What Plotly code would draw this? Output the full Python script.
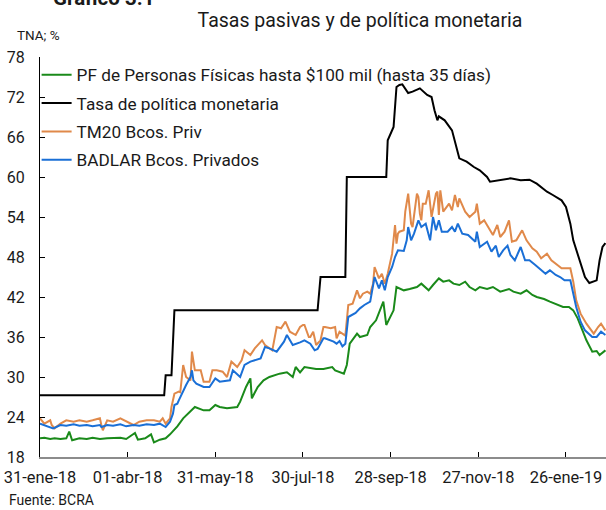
import plotly.graph_objects as go
import pandas as pd

BASE = pd.Timestamp("2018-01-31")

tick_dias = [0, 60, 120, 180, 240, 300, 360]
tick_etiquetas = ["31-ene-18", "01-abr-18", "31-may-18", "30-jul-18",
                  "28-sep-18", "27-nov-18", "26-ene-19"]

# Tasa de política monetaria (días desde 31-ene-18, valor)
tpm_dias = [0, 85, 86, 90, 92, 190, 192, 209, 210, 237, 238, 242, 244, 246, 248, 252, 255,
            260, 265, 268, 270, 272, 273, 277, 282, 285, 287, 292, 297, 301, 306, 308,
            315, 322, 329, 335, 340, 347, 351, 357, 360, 363, 365, 370, 373, 376, 381,
            383, 385, 387]
tpm_val = [27.25, 27.25, 30.25, 30.25, 40.0, 40.0, 45.0, 45.0, 60.0, 60.0, 65.5, 67.5, 73.5,
           73.8, 73.9, 72.6, 72.8, 73.3, 72.3, 72.0, 70.0, 68.5, 69.1, 68.5, 67.0, 64.5,
           62.8, 62.3, 61.5, 61.0, 60.0, 59.3, 59.5, 59.8, 59.5, 59.6, 59.0, 57.8, 57.3,
           56.5, 55.5, 53.0, 50.5, 47.0, 45.0, 44.1, 44.5, 47.5, 49.5, 50.1]

# TM20 Bcos. Priv
tm20_dias = [0, 3, 7, 8, 10, 14, 18, 23, 27, 32, 36, 41, 42, 43, 46, 50, 55, 59, 64, 68, 73,
             78, 82, 84, 86, 89, 90, 92, 95, 96, 98, 100, 103, 104, 106, 110, 112, 116, 118,
             121, 125, 128, 131, 135, 138, 140, 144, 147, 152, 154, 159, 162, 165, 168, 171,
             175, 178, 180, 181, 184, 185, 187, 188, 189, 192, 194, 195, 199, 202, 203, 205,
             209, 211, 214, 217, 219, 221, 224, 226, 228, 229, 232, 234, 236, 238, 241, 243,
             244, 245, 246, 249, 250, 252, 254, 255, 258, 259, 260, 261, 262, 264, 266, 268,
             271, 272, 273, 274, 276, 280, 282, 284, 286, 287, 291, 294, 298, 299, 301, 304,
             307, 310, 313, 315, 318, 321, 323, 326, 330, 333, 337, 340, 343, 347, 350, 354,
             357, 363, 365, 367, 370, 374, 379, 382, 384, 387]
tm20_val = [23.8, 23.0, 23.5, 22.8, 22.3, 23.0, 23.5, 23.3, 23.5, 23.3, 23.5, 23.8, 22.8, 22.0,
            23.5, 23.3, 23.8, 23.3, 22.8, 23.3, 23.5, 23.5, 23.3, 23.8, 23.0, 23.8, 25.5,
            27.5, 27.8, 27.7, 31.8, 30.0, 29.5, 33.8, 31.0, 31.0, 29.3, 29.3, 31.0, 31.0,
            30.8, 30.0, 32.3, 31.5, 32.5, 34.0, 33.3, 34.3, 35.5, 34.8, 34.0, 37.5, 37.3,
            38.3, 36.8, 36.3, 37.5, 37.8, 37.8, 36.0, 36.0, 36.8, 35.5, 34.8, 35.5, 37.5,
            37.5, 37.3, 37.5, 35.8, 36.8, 36.2, 40.8, 41.0, 43.0, 41.8, 42.5, 42.8, 42.5,
            44.0, 46.5, 44.8, 45.5, 44.0, 45.5, 48.5, 52.8, 50.0, 51.5, 51.8, 52.0, 54.8,
            57.5, 53.0, 52.5, 57.5, 57.0, 54.5, 53.5, 56.0, 56.0, 58.0, 54.0, 57.5, 57.8,
            54.3, 58.0, 54.8, 56.0, 55.0, 57.3, 55.5, 56.8, 54.8, 54.0, 54.8, 56.0, 53.0,
            53.5, 52.3, 51.3, 52.8, 51.0, 51.8, 53.5, 50.3, 50.5, 52.0, 50.5, 49.3, 48.8,
            47.8, 48.5, 47.5, 46.8, 46.3, 46.3, 44.3, 41.5, 39.5, 38.0, 36.5, 37.5, 38.0, 37.0]

# BADLAR Bcos. Privados
badlar_dias = [0, 3, 9, 14, 18, 23, 27, 32, 36, 41, 42, 46, 50, 55, 59, 64, 68, 73, 78, 82,
               84, 86, 89, 91, 92, 94, 95, 98, 100, 103, 104, 105, 107, 112, 116, 120, 123,
               130, 132, 137, 140, 144, 151, 154, 157, 162, 167, 169, 173, 178, 181, 185,
               188, 190, 194, 195, 199, 201, 203, 205, 207, 209, 211, 216, 219, 222, 226,
               229, 232, 234, 236, 238, 241, 243, 245, 249, 251, 252, 254, 256, 259, 261,
               264, 267, 269, 271, 273, 275, 279, 282, 284, 286, 289, 293, 298, 299, 301,
               306, 309, 312, 314, 317, 320, 322, 325, 329, 332, 335, 339, 342, 346, 349,
               353, 356, 359, 363, 365, 367, 370, 373, 378, 381, 384, 387]
badlar_val = [23.0, 22.8, 22.3, 22.8, 22.7, 22.9, 22.7, 22.8, 22.6, 22.8, 22.5, 22.8, 22.7,
              22.9, 22.6, 22.8, 22.7, 22.9, 22.8, 23.0, 22.8, 22.5, 23.3, 24.5, 25.8, 26.0,
              26.5, 28.0, 28.8, 30.0, 31.0, 29.5, 29.0, 28.5, 28.5, 29.8, 29.3, 29.5, 31.0,
              30.0, 31.8, 32.3, 32.8, 34.5, 34.3, 33.8, 35.3, 36.3, 34.8, 35.2, 35.5, 35.0,
              34.0, 34.2, 35.8, 35.8, 35.5, 35.3, 35.0, 35.4, 34.6, 35.0, 39.0, 39.6, 40.3,
              40.8, 41.3, 45.0, 43.3, 44.5, 43.0, 45.0, 46.5, 48.0, 49.0, 48.9, 50.5, 52.5,
              50.5, 51.5, 53.5, 52.5, 53.0, 50.5, 54.0, 52.0, 53.5, 51.8, 51.8, 52.5, 51.8,
              53.0, 51.5, 51.3, 50.3, 51.8, 49.5, 50.3, 48.8, 49.7, 48.0, 49.0, 49.7, 48.3,
              47.5, 49.5, 47.5, 47.5, 46.8, 46.3, 45.5, 46.0, 45.3, 45.0, 44.5, 44.5, 42.5,
              40.5, 38.3, 37.0, 36.0, 36.0, 36.8, 36.3]

# PF de Personas Físicas hasta $100 mil (hasta 35 días)
pf_dias = [0, 3, 7, 10, 14, 18, 20, 22, 27, 32, 36, 41, 46, 50, 55, 59, 65, 67, 72, 76, 78,
           82, 86, 89, 94, 98, 103, 106, 112, 116, 120, 123, 128, 135, 137, 141, 144, 145,
           149, 153, 157, 164, 169, 173, 175, 178, 181, 185, 189, 194, 200, 202, 208, 210,
           212, 217, 219, 224, 226, 230, 235, 237, 240, 242, 244, 249, 253, 258, 261, 266,
           269, 273, 276, 280, 283, 287, 291, 294, 298, 301, 306, 310, 315, 321, 324, 329,
           333, 337, 340, 345, 349, 354, 358, 362, 365, 368, 371, 374, 378, 381, 383, 387]
pf_val = [20.8, 20.9, 20.7, 20.8, 20.7, 20.8, 21.8, 20.5, 20.8, 20.7, 20.9, 20.7, 20.8, 20.8,
          20.9, 20.7, 21.6, 20.6, 20.8, 21.4, 20.2, 20.6, 20.8, 21.4, 22.6, 23.8, 24.8, 25.5,
          25.0, 25.0, 25.8, 25.5, 25.3, 25.5, 26.3, 28.5, 29.8, 26.8, 28.5, 29.5, 30.0, 30.5,
          30.7, 30.0, 31.5, 30.7, 31.5, 31.3, 31.2, 31.2, 31.5, 31.0, 30.5, 31.8, 35.0, 36.5,
          36.0, 36.3, 37.5, 38.5, 41.3, 37.8, 39.0, 40.0, 43.5, 43.0, 43.2, 43.5, 44.0, 43.0,
          43.8, 44.8, 44.3, 44.5, 44.0, 43.8, 44.3, 43.5, 43.0, 43.5, 43.2, 43.5, 42.8, 43.2,
          42.8, 42.5, 43.0, 42.3, 42.0, 41.7, 41.3, 40.8, 40.5, 40.5, 40.0, 38.8, 37.0, 35.5,
          33.8, 33.9, 33.3, 34.0]


def fechas(dias):
    return BASE + pd.to_timedelta(dias, unit="D")


FONT = "Roboto"

fig = go.Figure()
series = [
    ("PF de Personas Físicas hasta $100 mil (hasta 35 días)", pf_dias, pf_val, "#1a8a1a"),
    ("Tasa de política monetaria", tpm_dias, tpm_val, "#000000"),
    ("TM20 Bcos. Priv", tm20_dias, tm20_val, "#e0894a"),
    ("BADLAR Bcos. Privados", badlar_dias, badlar_val, "#1a6fd6"),
]
for nombre, d, v, color in series:
    fig.add_trace(go.Scatter(
        x=fechas(d), y=v, mode="lines", name=nombre, legendgroup=nombre,
        line=dict(color=color, width=2),
    ))

fig.update_layout(
    width=606, height=510,
    margin=dict(l=40, r=0, t=57, b=53, autoexpand=False),
    paper_bgcolor="white", plot_bgcolor="white",
    font=dict(family=FONT, size=16, color="#1a1a1a"),
    showlegend=True,
    legend=dict(x=-0.006, y=1.0, xanchor="left", yanchor="top",
                bgcolor="rgba(0,0,0,0)", font=dict(size=17.2, color="#1a1a1a"),
                tracegroupgap=3),
    title=dict(text="Tasas pasivas y de política monetaria", x=360 / 606,
               xanchor="center", y=1 - 20 / 510, yanchor="middle",
               font=dict(size=19.5, color="#1a1a1a")),
)

fig.update_xaxes(
    type="date", automargin=False,
    range=[fechas([0])[0], BASE + pd.Timedelta(days=387.4)],
    tickvals=list(fechas(tick_dias)), ticktext=tick_etiquetas,
    showline=True, linecolor="#8c8c8c", linewidth=2,
    ticks="inside", ticklen=5, tickcolor="#000000", tickwidth=1,
    showgrid=False, zeroline=False, tickfont=dict(size=16.4),
    ticklabelstandoff=4, ticklabeloverflow="allow",
)
fig.update_yaxes(
    range=[18, 78], tick0=18, dtick=6, automargin=False,
    showline=True, linecolor="#000000", linewidth=1,
    ticks="inside", ticklen=5, tickcolor="#000000",
    showgrid=False, zeroline=False, tickfont=dict(size=16),
    ticklabelstandoff=11,
)

fig.add_annotation(text="<b>Gráfico 3.1</b>", xref="paper", yref="paper",
                   x=(51 - 40) / 566, y=1 + (57 - 12) / 400, xanchor="left", yanchor="bottom",
                   showarrow=False, font=dict(size=20.5, color="#1a1a1a"))
fig.add_annotation(text="TNA; %", xref="paper", yref="paper",
                   x=(15 - 40) / 566, y=1 + (57 - 35) / 400, xanchor="left", yanchor="middle",
                   showarrow=False, font=dict(size=13.5, color="#1a1a1a"))
fig.add_annotation(text="Fuente: BCRA", xref="paper", yref="paper",
                   x=(7 - 40) / 566, y=-(500 - 457) / 400, xanchor="left", yanchor="middle",
                   showarrow=False, font=dict(size=14, color="#1a1a1a"))

fig.write_html("out.html",
               config={"displayModeBar": False},
               post_script="document.body.style.margin='0';document.body.style.padding='0';")
